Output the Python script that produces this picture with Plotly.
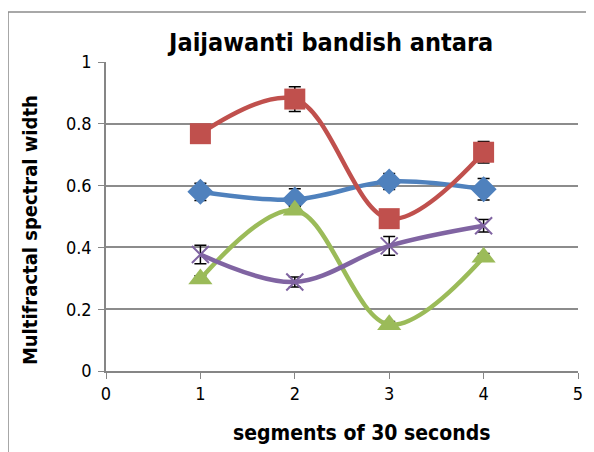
"""Jaijawanti bandish antara: multifractal spectral width per 30 s segment."""

import plotly.graph_objects as go

segments = [1, 2, 3, 4]

blue_vals = [0.58, 0.555, 0.613, 0.588]
blue_err = [0.028, 0.035, 0.026, 0.035]

red_vals = [0.768, 0.88, 0.493, 0.708]
red_err = [0.022, 0.04, 0.02, 0.035]

green_vals = [0.298, 0.52, 0.15, 0.368]
green_err = [0.01, 0.012, 0.01, 0.012]

purple_vals = [0.377, 0.288, 0.405, 0.47]
purple_err = [0.03, 0.016, 0.03, 0.02]

x_ticks = [0, 1, 2, 3, 4, 5]
y_ticks = [0, 0.2, 0.4, 0.6, 0.8, 1]
y_labels = ["0", "0.2", "0.4", "0.6", "0.8", "1"]

FONT = "DejaVu Sans Condensed, Liberation Sans Narrow, Liberation Sans, sans-serif"

series = [
    ("blue", blue_vals, blue_err, "#4F81BD", "diamond", 20),
    ("red", red_vals, red_err, "#C0504D", "square", 21),
    ("green", green_vals, green_err, "#9BBB59", "triangle-up", 21),
    ("purple", purple_vals, purple_err, "#8064A2", "x-thin", 17),
]

fig = go.Figure()

for name, vals, err, color, symbol, size in series:
    marker = dict(symbol=symbol, size=size, color=color)
    if symbol == "x-thin":
        marker["line"] = dict(color=color, width=2)
    fig.add_trace(
        go.Scatter(
            x=segments, y=vals, name=name, mode="lines+markers",
            line=dict(color=color, width=4.5, shape="spline", smoothing=1),
            marker=marker,
            error_y=dict(type="data", array=err, color="black", thickness=1.5, width=6),
        )
    )

# outer chart-area border (as in the Excel export)
fig.add_shape(
    type="rect", xref="paper", yref="paper",
    x0=-0.2076, x1=1.06, y0=-0.3, y1=1.1618,
    line=dict(color="#8c8c8c", width=1.5), layer="below",
)

# axis titles as annotations so they sit where Excel put them
fig.add_annotation(
    text="<b>segments of 30 seconds</b>", xref="paper", yref="paper",
    x=0.542, y=-0.2, xanchor="center", yanchor="middle", showarrow=False,
    font=dict(size=21, family=FONT, color="black"),
)
fig.add_annotation(
    text="<b>Multifractal spectral width</b>", xref="paper", yref="paper",
    x=-0.161, y=0.456, xanchor="center", yanchor="middle", showarrow=False,
    textangle=-90, font=dict(size=20, family=FONT, color="black"),
)

# page body has an 8px margin, so the figure is 8px smaller than the window
fig.update_layout(
    width=586, height=444,
    margin=dict(l=98, r=16, t=54, b=81, autoexpand=False),
    paper_bgcolor="white", plot_bgcolor="white",
    showlegend=False,
    font=dict(family=FONT, color="black"),
    title=dict(
        text="<b>Jaijawanti bandish antara</b>",
        x=0.477, xref="paper", xanchor="center",
        y=0.923, yanchor="middle",
        font=dict(family=FONT, size=25, color="black"),
    ),
)
fig.update_xaxes(
    range=[0, 5], tickvals=x_ticks, showgrid=False, zeroline=False,
    showline=True, linecolor="#868686", linewidth=1.5,
    ticks="outside", ticklen=6, tickcolor="#868686",
    tickfont=dict(size=18, family=FONT),
)
fig.update_yaxes(
    range=[0, 1], tickvals=y_ticks, ticktext=y_labels,
    showgrid=True, gridcolor="#8c8c8c", gridwidth=1.5, zeroline=False,
    showline=True, linecolor="#868686", linewidth=1.5,
    ticks="outside", ticklen=6, tickcolor="#868686", ticklabelstandoff=3,
    tickfont=dict(size=18, family=FONT),
)

fig.write_html("out.html")
